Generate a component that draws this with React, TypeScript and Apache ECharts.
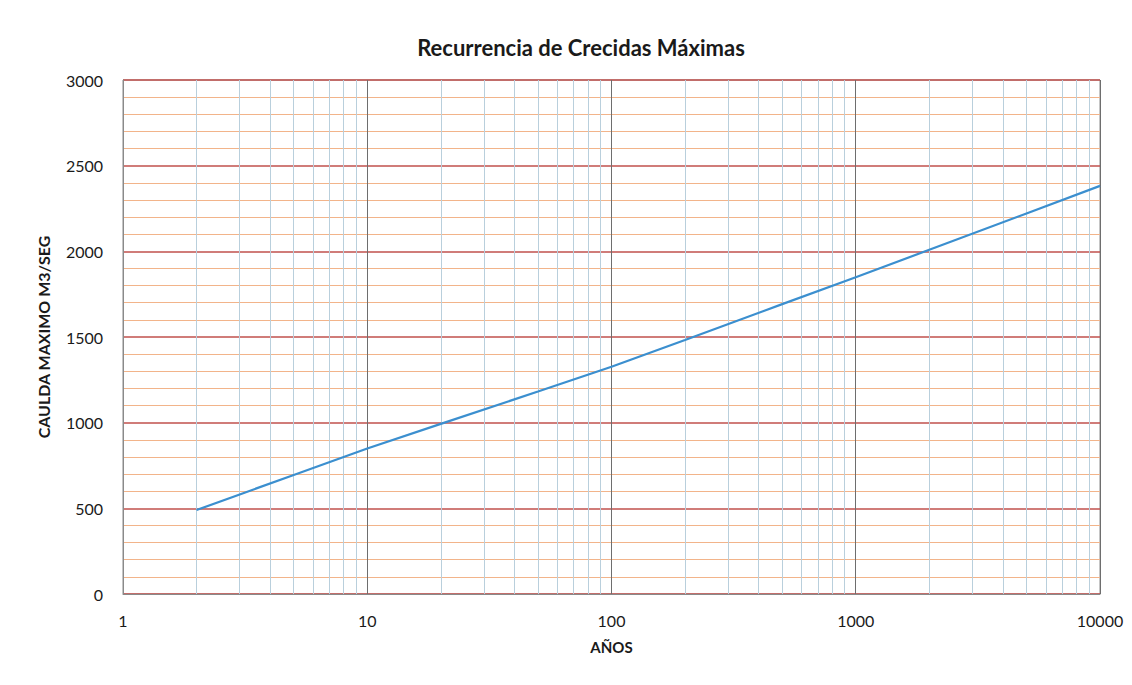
import React, { useEffect, useRef } from "react";
import * as echarts from "echarts";

// Return period (years) and maximum discharge (m3/s)
const returnPeriods = [2, 5, 10, 20, 50, 100, 200, 500, 1000, 2000, 5000, 10000];
const maxDischarge = [490, 695, 849, 993, 1182, 1326, 1483, 1692, 1849, 2009, 2221, 2382];

const titleText = "Recurrencia de Crecidas Máximas";
const xAxisName = "AÑOS";
const yAxisName = "CAULDA MAXIMO M3/SEG";
const xTickLabels = ["1", "10", "100", "1000", "10000"];
const decades = [1, 10, 100, 1000];
const minorMultipliers = [2, 3, 4, 5, 6, 7, 8, 9];

export default function App() {
  const ref = useRef<HTMLDivElement>(null);

  useEffect(() => {
    if (!ref.current) return;
    const chart = echarts.init(ref.current, undefined, { renderer: "svg" });

    const minorX: number[] = [];
    decades.forEach((d) => minorMultipliers.forEach((m) => minorX.push(d * m)));

    const font = "Lato, 'Open Sans', sans-serif";

    chart.setOption({
      animation: false,
      backgroundColor: "#ffffff",
      textStyle: { fontFamily: font },
      title: {
        text: titleText,
        left: 576,
        textAlign: "center",
        top: 31,
        textStyle: { fontSize: 22, fontWeight: "bold", color: "#1a1a1a", fontFamily: font },
      },
      grid: {
        left: 123,
        right: 32,
        top: 80,
        bottom: 91,
        show: true,
        borderColor: "#8a8a8a",
        borderWidth: 1,
        backgroundColor: "transparent",
      },
      xAxis: {
        type: "log",
        logBase: 10,
        min: 1,
        max: 10000,
        name: xAxisName,
        nameLocation: "middle",
        nameGap: 45,
        nameTextStyle: { fontSize: 15, fontWeight: "bold", color: "#1a1a1a" },
        axisLine: { show: true, lineStyle: { color: "#8a8a8a" } },
        axisTick: { show: false },
        axisLabel: {
          margin: 18,
          fontSize: 16,
          color: "#1a1a1a",
          formatter: (v: number) => {
            const i = Math.round(Math.log10(v));
            return xTickLabels[i] ?? String(v);
          },
        },
        splitLine: { show: true, lineStyle: { color: "#6e6e6e", width: 1 } },
      },
      yAxis: {
        type: "value",
        min: 0,
        max: 3000,
        interval: 500,
        name: yAxisName,
        nameLocation: "middle",
        nameGap: 72,
        nameTextStyle: { fontSize: 16, fontWeight: "bold", color: "#1a1a1a" },
        axisLine: { show: true, lineStyle: { color: "#8a8a8a" } },
        axisTick: { show: false },
        axisLabel: {
          margin: 20,
          fontSize: 16,
          color: "#1a1a1a",
          formatter: (v: number) => String(v),
        },
        splitLine: { show: true, lineStyle: { color: "#c0504d", width: 1.5 } },
        minorTick: { show: false, splitNumber: 5 },
        minorSplitLine: { show: true, lineStyle: { color: "#f2b48a", width: 1 } },
      },
      series: [
        {
          type: "line",
          name: "grid",
          data: [],
          silent: true,
          z: 1,
          markLine: {
            silent: true,
            symbol: "none",
            label: { show: false },
            z: 1,
            lineStyle: { color: "#b9cfdc", width: 1, type: "solid" },
            data: minorX.map((x) => ({ xAxis: x })),
          },
        },
        {
          type: "line",
          name: "Caudal",
          z: 10,
          data: returnPeriods.map((t, i) => [t, maxDischarge[i]]),
          showSymbol: false,
          symbol: "none",
          lineStyle: { color: "#3b8fcf", width: 2.2 },
        },
      ],
    });

    return () => chart.dispose();
  }, []);

  return (
    <div
      ref={ref}
      style={{ position: "fixed", left: 0, top: 0, width: 1132, height: 685, background: "#fff" }}
    />
  );
}
